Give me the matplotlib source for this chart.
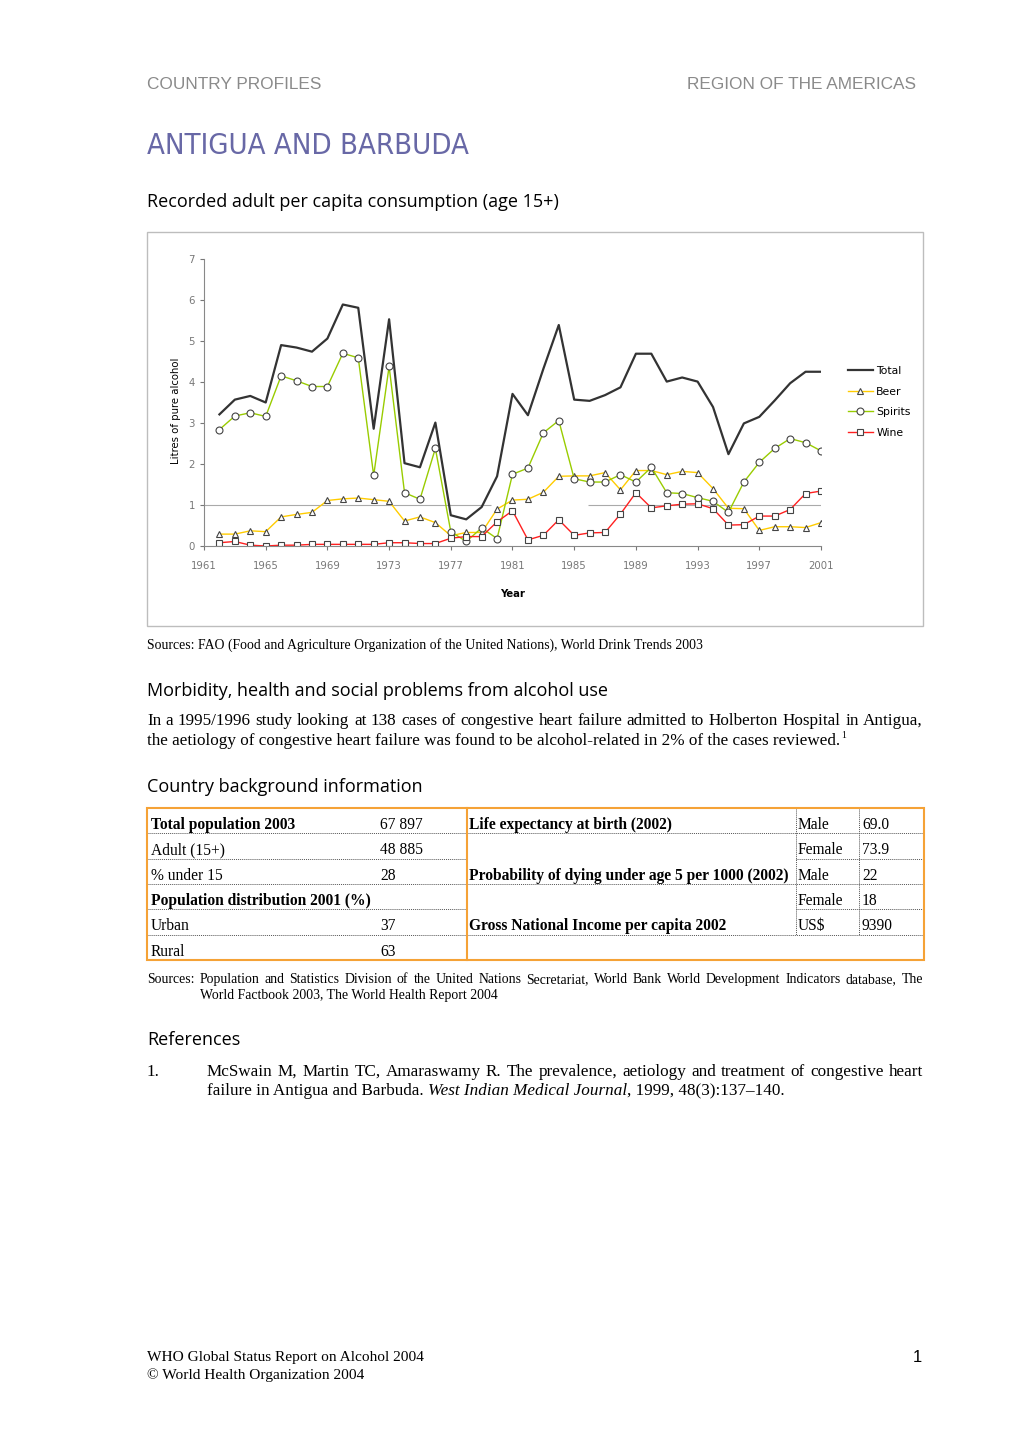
import matplotlib
matplotlib.use("Agg")
import matplotlib.pyplot as plt
from matplotlib.patches import Rectangle

years = list(range(1962, 2002))
total = [3.21, 3.57, 3.66, 3.50, 4.90, 4.84, 4.74, 5.06, 5.89, 5.81,
         2.86, 5.53, 2.02, 1.92, 3.01, 0.75, 0.65, 0.95, 1.70, 3.71,
         3.19, 4.32, 5.39, 3.57, 3.54, 3.68, 3.87, 4.69, 4.69, 4.01,
         4.11, 4.01, 3.39, 2.24, 2.99, 3.15, 3.55, 3.97, 4.25, 4.25]
beer = [0.29, 0.29, 0.37, 0.35, 0.71, 0.77, 0.82, 1.11, 1.15, 1.17,
        1.13, 1.09, 0.61, 0.71, 0.57, 0.25, 0.33, 0.33, 0.90, 1.12,
        1.14, 1.31, 1.70, 1.71, 1.71, 1.79, 1.37, 1.84, 1.84, 1.74,
        1.82, 1.79, 1.40, 0.92, 0.91, 0.38, 0.47, 0.47, 0.45, 0.57]
spirits = [2.84, 3.17, 3.25, 3.16, 4.15, 4.03, 3.89, 3.89, 4.70, 4.59,
           1.72, 4.38, 1.30, 1.14, 2.38, 0.35, 0.11, 0.44, 0.18, 1.75,
           1.90, 2.76, 3.06, 1.64, 1.56, 1.56, 1.74, 1.56, 1.92, 1.30,
           1.28, 1.18, 1.09, 0.82, 1.56, 2.04, 2.38, 2.62, 2.52, 2.32]
wine = [0.08, 0.11, 0.02, 0.00, 0.02, 0.02, 0.04, 0.04, 0.04, 0.04,
        0.04, 0.08, 0.08, 0.06, 0.06, 0.19, 0.23, 0.23, 0.59, 0.86,
        0.15, 0.26, 0.64, 0.26, 0.32, 0.33, 0.78, 1.30, 0.93, 0.98,
        1.02, 1.03, 0.91, 0.51, 0.52, 0.73, 0.73, 0.89, 1.28, 1.34]
year_ticks = list(range(1961, 2002, 4))

# table content
left_rows = [("Total population 2003", "67 897", True),
             ("Adult (15+)", "48 885", False),
             ("% under 15", "28", False),
             ("Population distribution 2001 (%)", "", True),
             ("Urban", "37", False),
             ("Rural", "63", False)]
right_rows = [("Life expectancy at birth (2002)", "Male", "69.0"),
              ("", "Female", "73.9"),
              ("Probability of dying under age 5 per 1000 (2002)", "Male", "22"),
              ("", "Female", "18"),
              ("Gross National Income per capita 2002", "US$", "9390")]

W, H = 1020, 1443
fig = plt.figure(figsize=(W / 100, H / 100), dpi=100)
page = fig.add_axes([0, 0, 1, 1])
page.set_xlim(0, W)
page.set_ylim(H, 0)
page.axis("off")
renderer = fig.canvas.get_renderer()

SERIF = "Liberation Serif"
HEAD = "Open Sans"
BODY = 12.35


def justify(words, x0, x1, y, **kw):
    texts = [page.text(0, y, w, va="baseline", **kw) for w in words]
    widths = [t.get_window_extent(renderer).width for t in texts]
    gap = (x1 - x0 - sum(widths)) / (len(words) - 1)
    x = x0
    for t, w in zip(texts, widths):
        t.set_x(x)
        x += w + gap


def run(pieces, x, y):
    # place text pieces one after another, return end x
    for s, kw in pieces:
        t = page.text(x, y, s, va="baseline", **kw)
        x += t.get_window_extent(renderer).width
    return x


# page header
page.text(147, 89, "COUNTRY PROFILES", color="#8a8a8a", fontsize=12.4, family="Liberation Sans")
page.text(916, 89, "REGION OF THE AMERICAS", color="#8a8a8a", fontsize=12.4,
          family="Liberation Sans", ha="right")
page.text(147, 154, "ANTIGUA AND BARBUDA", color="#6868a6", fontsize=21,
          family="DejaVu Sans", fontstretch="condensed")
page.text(147, 207, "Recorded adult per capita consumption (age 15+)", fontsize=13,
          family=HEAD, va="baseline")

# chart frame
page.add_patch(Rectangle((147, 232), 776, 394, fill=False, ec="#bdbdbd", lw=1))

ax = fig.add_axes([204 / W, 1 - 546 / H, 617 / W, 287 / H])
ax.plot(years, total, color="#333333", lw=1.6, label="Total")
ax.plot(years, beer, color="#ffcc00", lw=1, marker="^", ms=5, mfc="white",
        mec="#444444", mew=0.8, label="Beer")
ax.plot(years, spirits, color="#99cc00", lw=1, marker="o", ms=5, mfc="white",
        mec="#444444", mew=0.8, label="Spirits")
ax.plot(years, wine, color="#ff2020", lw=1, marker="s", ms=5, mfc="white",
        mec="#444444", mew=0.8, label="Wine")
ax.hlines(1, 1961, 1979.6, color="#aaaaaa", lw=0.8, zorder=0)
ax.hlines(1, 1985.9, 2001, color="#aaaaaa", lw=0.8, zorder=0)
ax.set_xlim(1961, 2001)
ax.set_ylim(0, 7)
ax.set_xticks(year_ticks)
ax.set_yticks(range(8))
ax.tick_params(colors="#777777", labelsize=7.3, length=3, width=0.8)
ax.tick_params(axis="x", pad=8)
for s in ["top", "right"]:
    ax.spines[s].set_visible(False)
for s in ["left", "bottom"]:
    ax.spines[s].set_color("#888888")
    ax.spines[s].set_linewidth(0.8)
ax.patch.set_alpha(0)
ax.set_xlabel("Year", fontsize=7.3, fontweight="bold", labelpad=13)
ax.set_ylabel("Litres of pure alcohol", fontsize=7.3)
ax.yaxis.set_label_coords(-0.037, 0.47)
ax.legend(loc="upper left", bbox_to_anchor=(848 / W, 1 - 366 / H),
          bbox_transform=fig.transFigure, frameon=False, fontsize=7.8,
          handlelength=2.3, handletextpad=0.3, labelspacing=0.98, borderpad=0,
          borderaxespad=0)

page.text(147, 649, "Sources: FAO (Food and Agriculture Organization of the United Nations), "
          "World Drink Trends 2003", fontsize=9.95, family=SERIF, va="baseline")

# morbidity
page.text(147, 696, "Morbidity, health and social problems from alcohol use", fontsize=13,
          family=HEAD, va="baseline")
justify("In a 1995/1996 study looking at 138 cases of congestive heart failure admitted "
        "to Holberton Hospital in Antigua,".split(), 147, 923, 725, fontsize=BODY, family=SERIF)
x_end = run([("the aetiology of congestive heart failure was found to be alcohol-related in 2% "
              "of the cases reviewed.", dict(fontsize=BODY, family=SERIF))], 147, 745)
page.text(x_end + 1, 738, "1", fontsize=7, family=SERIF, va="baseline")

# country background
page.text(147, 792, "Country background information", fontsize=13, family=HEAD, va="baseline")
top, rh = 808, 25.3
orange = "#f5a236"
page.add_patch(Rectangle((147, top), 777, 152, fill=False, ec=orange, lw=1.5, zorder=3))
page.plot([467, 467], [top, 960], color=orange, lw=1.5, zorder=3)
for i, (lab, val, bold) in enumerate(left_rows):
    yb = top + rh * i + 21
    page.text(151, yb, lab, fontsize=11.2, family=SERIF, va="baseline",
              fontweight="bold" if bold else "normal")
    page.text(380, yb, val, fontsize=11.2, family=SERIF, va="baseline")
    if i < len(left_rows) - 1:
        yl = top + rh * (i + 1)
        page.plot([148, 466], [yl, yl], color="#555555", lw=0.7, ls=(0, (1, 1)))
for i, (lab, sub, val) in enumerate(right_rows):
    yb = top + rh * i + 21
    yl = top + rh * (i + 1)
    page.text(469, yb, lab, fontsize=11.2, family=SERIF, va="baseline", fontweight="bold")
    page.text(798, yb, sub, fontsize=11.2, family=SERIF, va="baseline")
    page.text(862, yb, val, fontsize=11.2, family=SERIF, va="baseline")
    x_start = 468 if lab or i == len(right_rows) - 1 else 796
    page.plot([x_start, 923], [yl, yl], color="#555555", lw=0.7, ls=(0, (1, 1)))
for xv in [796, 859]:
    page.plot([xv, xv], [top + 1, top + rh * 5], color="#555555", lw=0.7, ls=(0, (1, 1)))

justify("Sources: Population and Statistics Division of the United Nations Secretariat, "
        "World Bank World Development Indicators database, The".split(),
        147, 923, 983, fontsize=9.9, family=SERIF)
page.text(200, 999, "World Factbook 2003, The World Health Report 2004", fontsize=9.9,
          family=SERIF, va="baseline")

# references
page.text(147, 1045, "References", fontsize=13, family=HEAD, va="baseline")
page.text(147, 1076, "1.", fontsize=BODY, family=SERIF, va="baseline")
justify("McSwain M, Martin TC, Amaraswamy R. The prevalence, aetiology and treatment "
        "of congestive heart".split(), 207, 923, 1076, fontsize=BODY, family=SERIF)
run([("failure in Antigua and Barbuda. ", dict(fontsize=BODY, family=SERIF)),
     ("West Indian Medical Journal", dict(fontsize=BODY, family=SERIF, style="italic")),
     (", 1999, 48(3):137\u2013140.", dict(fontsize=BODY, family=SERIF))], 207, 1095)

# footer
page.text(147, 1361, "WHO Global Status Report on Alcohol 2004", fontsize=11.1,
          family=SERIF, va="baseline")
page.text(147, 1379, "\u00a9 World Health Organization 2004", fontsize=11.1,
          family=SERIF, va="baseline")
page.text(922, 1362, "1", fontsize=12, family="Liberation Sans", va="baseline", ha="right")

fig.savefig("out.png", dpi=100)
